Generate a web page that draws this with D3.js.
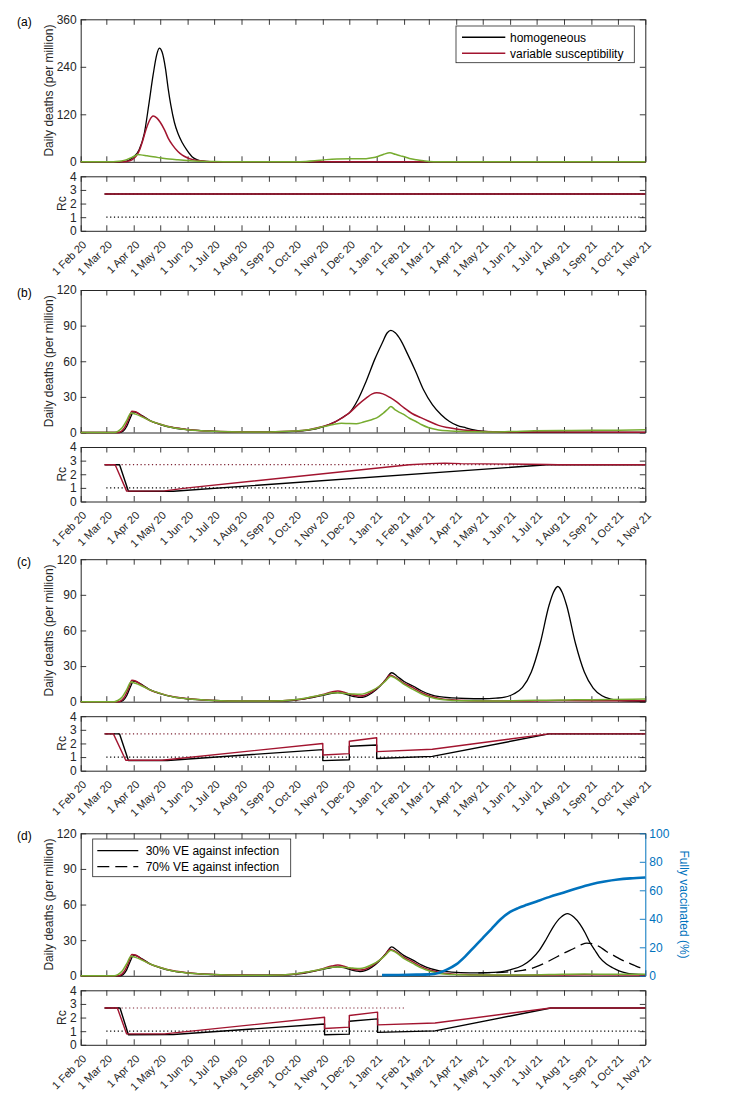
<!DOCTYPE html>
<html><head><meta charset="utf-8">
<script src="https://cdn.jsdelivr.net/npm/d3@7"></script>
<style>
body{margin:0;background:#fff}
svg text{font-family:"Liberation Sans",Arial,Helvetica,sans-serif}
</style>
</head><body>
<svg id="chart" width="731" height="1093"></svg>
<script>
// ---------------- DATA (day index: days since 1 Feb 2020) ----------------
const tickLabels = ["1 Feb 20","1 Mar 20","1 Apr 20","1 May 20","1 Jun 20","1 Jul 20","1 Aug 20","1 Sep 20","1 Oct 20","1 Nov 20","1 Dec 20","1 Jan 21","1 Feb 21","1 Mar 21","1 Apr 21","1 May 21","1 Jun 21","1 Jul 21","1 Aug 21","1 Sep 21","1 Oct 21","1 Nov 21"];
const panelLabels = ["(a)","(b)","(c)","(d)"];
const yTicksA = [0,120,240,360];
const yTicksBCD = [0,30,60,90,120];
const rcTicks = [0,1,2,3,4];
const vacTicks = [0,20,40,60,80,100];
const legendA = ["homogeneous","variable susceptibility"];
const legendD = ["30% VE against infection","70% VE against infection"];

// panel (a)
const deathsA_homog = [[0,0],[44,0],[50,1],[54.5,4],[60,12.6],[66,30],[72,72],[77,143],[82,220],[86,270],[89,287],[92,278],[96,235],[99,185],[102,143],[106,100],[110,72],[115,48],[120,30],[126,13],[132,5],[138,1.5],[146,0.3],[160,0],[639,0]];
const deathsA_var = [[0,0],[46,0],[52,1],[58,5],[63,15],[67,32],[70.4,55],[74,82],[78,105],[82,115.5],[86,111],[90,100],[95,80],[99,60],[104,42],[110,26],[115,17],[120,11],[127,5.5],[135,2.5],[142,1],[155,0.2],[170,0],[639,0]];
const deathsA_stoch = [[0,0],[34,0],[40,0.5],[46,2],[52,5.5],[58,11],[62,16],[64.5,18.5],[68,17.5],[75,15],[82,12.5],[90,10],[100,7],[110,5],[120,3.4],[135,1.5],[150,0.5],[170,0.2],[220,0.1],[240,0.3],[255,1],[265,2.5],[278,5.5],[290,7],[305,7.5],[315,7.5],[323,8],[330,10],[337,14],[343,19],[350,22.8],[356,19],[362,15],[366,12.6],[372,8.5],[380,5],[388,2.5],[394,1],[405,0.4],[639,0.3]];
const rcA_homog = [[27,2.7],[639,2.7]];
const rcA_var = [[27,2.7],[639,2.7]];

// first wave, shared by (b), (c), (d)
const wave1_homog = [[0,0],[44,0],[48,1],[52,5],[56,12],[60,17.4],[64,16.5],[70,14],[80,9.5],[90,6.7],[105,4],[121,2.4],[151,1],[182,0.5],[213,0.5]];
const wave1_var = [[0,0],[42,0],[46,1],[50,4.5],[54,11],[58,18],[62,17.5],[68,14.5],[78,10],[90,7],[105,4.2],[121,2.6],[151,1],[182,0.6],[213,0.5]];
const wave1_stoch = [[0,0],[38,0],[42,1],[47,4],[52,10],[57,16.5],[62,15.5],[70,13],[80,9.5],[90,7],[105,4],[121,2.4],[151,1],[182,0.5],[213,0.5]];

// panel (b)
const wave2B_homog = [[243,1],[258,2],[274,4.8],[288,9],[298,13.5],[304,16.5],[314,28],[323,43],[333,62],[341,75],[347,84],[351,86],[356,84],[362,78],[370,66],[379,51.6],[388,36],[398,23.5],[408,15],[417,9.5],[426,6],[436,3.9],[445,2.2],[455,1.1],[470,0.5],[500,0.2],[639,0.1]];
const wave2B_var = [[243,1.2],[258,2.4],[274,5],[288,9],[304,16.5],[314,23.5],[323,29],[330,32.5],[335,33.4],[342,32.5],[350,29.5],[358,25.5],[366,20.7],[375,16],[385,12.5],[394,9.5],[405,6],[415,4.2],[425,3],[440,1.6],[455,0.8],[480,0.4],[639,0.3]];
const wave2B_stoch = [[243,1.2],[258,2.4],[274,4.8],[286,6.7],[295,7.8],[304,7.5],[312,7.4],[318,8.3],[323,9.5],[330,11],[335,12.3],[342,16],[348,20],[351,22],[356,19],[362,16.5],[366,15],[372,12],[379,9.5],[386,6.5],[394,4],[405,2.2],[415,1.4],[425,1],[445,0.6],[470,0.5],[490,0.9],[513,1.5],[550,1.7],[580,1.9],[610,2],[639,2.3]];
const rcB_homog = [[27,2.7],[44,2.7],[54,0.75],[105,0.75],[528,2.7],[639,2.7]];
const rcB_var = [[27,2.7],[39,2.7],[52,0.76],[95,0.78],[121,1.0],[323,2.37],[372,2.7],[395,2.78],[412,2.82],[430,2.78],[528,2.72],[540,2.7],[639,2.7]];

// second wave shared by (c) and (d)
const wave2_homog = [[235,0.8],[244,1.4],[258,3],[274,5.4],[284,7],[291,7.6],[298,6.8],[306,5],[312,4],[316,3.6],[322,4.3],[330,7.5],[338,12.5],[345,18.5],[352,24.4],[358,21.5],[366,17],[376,13.2],[386,9],[396,6],[406,4.2]];
const wave2_var = [[244,1.6],[258,3.3],[274,6],[284,8.2],[291,9],[298,8],[306,6],[312,5.1],[316,4.8],[322,5.5],[330,8.5],[338,13],[345,18],[350,22.4],[356,20.5],[366,15.5],[376,11.8],[386,7.5],[396,4.6],[406,2.8]];
const wave2_stoch = [[244,1.8],[258,3.5],[274,5.8],[284,7.3],[291,7.5],[300,7],[308,6.5],[316,6.2],[322,7],[330,9.5],[338,13],[345,17.5],[351,21.5],[357,19.5],[366,14.5],[376,10.4],[386,6.5],[396,3.8],[406,2]];

// panel (c)
const tailC_homog = [[420,3.2],[435,2.7],[455,2.5],[470,3],[480,3.8],[490,6.5],[500,12],[510,25],[520,49],[530,81],[535,92],[540,97],[545,92],[550,81],[560,49],[570,25],[580,11.5],[590,5],[600,2.2],[610,1],[625,0.5],[639,0.3]];
const tailC_var = [[420,1.6],[440,0.9],[470,0.6],[500,0.6],[540,1],[580,0.9],[639,0.8]];
const tailC_stoch = [[420,1.1],[440,0.7],[470,0.6],[500,1],[530,1.3],[560,1.6],[600,1.8],[639,2.2]];
const rcC_homog = [[27,2.7],[44,2.7],[54,0.75],[98,0.75],[274,1.55],[274,0.74],[304,0.8],[304,1.79],[335,1.89],[335,0.9],[398,1.05],[530,2.7],[639,2.7]];
const rcC_var = [[27,2.7],[37,2.7],[51,0.77],[92,0.77],[274,2.0],[274,1.15],[304,1.25],[304,2.16],[335,2.42],[335,1.4],[398,1.57],[530,2.7],[639,2.7]];

// panel (d)
const tailD_homog30 = [[420,3.1],[440,2.5],[460,2.6],[475,3.3],[486,5],[500,8.7],[510,14],[519,21.4],[527,31],[535,41.5],[543,49],[551,52.4],[558,49.5],[565,43.5],[571,36],[576,28.5],[582,21.5],[587,15.8],[595,10],[602,6.8],[610,4],[618,2.3],[632,1.1],[639,0.9]];
const deathsD_homog70 = [[450,2.5],[470,2.7],[485,3.3],[500,4.5],[510,6.2],[519.5,8.7],[530,12.5],[538.6,15.8],[548,19.5],[557.6,22.8],[566,26],[572.7,27.6],[580,27],[587.9,24.2],[595,20.5],[603,17.2],[610,14.3],[618,11.5],[626,9],[633,6.8],[639,5.6]];
const tailD_var = [[420,1.6],[440,0.9],[470,0.5],[530,0.6],[570,0.8],[639,0.6]];
const tailD_stoch = [[420,1.1],[440,0.7],[480,0.6],[530,1.0],[570,1.5],[600,1.3],[639,1.3]];
const vaccinatedD = [[341,0.5],[360,0.6],[380,0.8],[394,1.0],[405,2],[415,4.5],[425,8],[435,13.5],[445,20],[455,26.5],[465,33],[475,39.5],[486,44.8],[495,47.5],[505,49.8],[516,52.2],[530,55.2],[547,58.5],[562,61.5],[578,64.3],[593,66.2],[608,67.6],[622,68.4],[639,69]];
const rcD_homog = [[27,2.7],[44.5,2.7],[54,0.74],[105,0.76],[276,1.53],[276,0.74],[304,0.78],[304,1.73],[336,1.9],[336,0.91],[401,1.02],[532,2.7],[639,2.7]];
const rcD_var = [[27,2.7],[41.5,2.7],[52,0.8],[95,0.8],[276,2.02],[276,1.2],[304,1.3],[304,2.15],[336,2.4],[336,1.46],[401,1.6],[532,2.7],[639,2.7]];

// reference (dotted) lines in the Rc panels
const rcRefOne = [[29,1],[639,1]];
const rcRefBase = [[29,2.7],[639,2.7]];
const rcRefBaseD = [[29,2.7],[368,2.7]];

// ---------------- DRAWING ----------------
const BLACK="#000000", RED="#A2142F", GREEN="#77AC30", BLUE="#0072BD", AX="#262626", DOTRED="#7d2233";
const X0=80.7, X1=645.3, MAIN_H=142.5, RC_OFF=157, RC_H=54.5, TICK=5.5;
const tops = [19.3, 290, 559.2, 833.3];
const t0 = Date.UTC(2020,1,1);
const dt = d => new Date(t0 + d*864e5);
const x = d3.scaleUtc().domain([dt(0), new Date(Date.UTC(2021,10,1))]).range([X0,X1]);
const tickDates = d3.utcMonth.range(new Date(Date.UTC(2020,1,1)), new Date(Date.UTC(2021,10,2)));
const svg = d3.select("#chart");
const fmtInt = d3.format("d");

function styleAxis(sel, color){
  sel.attr("color", color).attr("font-size", null).attr("font-family", null);
  sel.selectAll(".domain").attr("stroke-width", 1);
  sel.selectAll(".tick line").attr("stroke-width", 0.9);
  sel.selectAll("text").style("font-size","12px");
}

function frame(g, y, top, bottom, yTicks, withRightAxis){
  g.append("g").attr("transform",`translate(0,${bottom})`)
    .call(d3.axisBottom(x).tickValues(tickDates).tickSize(-TICK).tickSizeOuter(0).tickFormat(""))
    .call(s=>styleAxis(s,AX));
  g.append("g").attr("transform",`translate(0,${top})`)
    .call(d3.axisTop(x).tickValues(tickDates).tickSize(-TICK).tickSizeOuter(0).tickFormat(""))
    .call(s=>styleAxis(s,AX));
  g.append("g").attr("transform",`translate(${X0},0)`)
    .call(d3.axisLeft(y).tickValues(yTicks).tickFormat(fmtInt).tickSize(-TICK).tickSizeOuter(0).tickPadding(4))
    .call(s=>styleAxis(s,AX));
  if (withRightAxis) {
    g.append("g").attr("transform",`translate(${X1},0)`)
      .call(d3.axisRight(y).tickValues(yTicks).tickSize(-TICK).tickSizeOuter(0).tickFormat(""))
      .call(s=>styleAxis(s,AX));
  }
}

function drawLine(g, data, y, color, width, dash, curve){
  const gen = d3.line().x(d=>x(dt(d[0]))).y(d=>y(d[1])).curve(curve || d3.curveMonotoneX);
  const p = g.append("path").attr("d", gen(data)).attr("fill","none")
    .attr("stroke", color).attr("stroke-width", width)
    .attr("stroke-linejoin","round");
  if (dash) p.attr("stroke-dasharray", dash);
  return p;
}

const panels = [
  {deaths:[[deathsA_homog,BLACK],[deathsA_var,RED],[deathsA_stoch,GREEN]], yMax:360, yTicks:yTicksA,
   rc:[[rcA_homog,BLACK],[rcA_var,RED]], base:rcRefBase},
  {deaths:[[wave1_homog.concat(wave2B_homog),BLACK],[wave1_var.concat(wave2B_var),RED],[wave1_stoch.concat(wave2B_stoch),GREEN]], yMax:120, yTicks:yTicksBCD,
   rc:[[rcB_homog,BLACK],[rcB_var,RED]], base:rcRefBase},
  {deaths:[[wave1_homog.concat(wave2_homog,tailC_homog),BLACK],[wave1_var.concat(wave2_var,tailC_var),RED],[wave1_stoch.concat(wave2_stoch,tailC_stoch),GREEN]], yMax:120, yTicks:yTicksBCD,
   rc:[[rcC_homog,BLACK],[rcC_var,RED]], base:rcRefBase},
  {deaths:[[wave1_homog.concat(wave2_homog,tailD_homog30),BLACK],[wave1_var.concat(wave2_var,tailD_var),RED],[wave1_stoch.concat(wave2_stoch,tailD_stoch),GREEN]], yMax:120, yTicks:yTicksBCD,
   rc:[[rcD_homog,BLACK],[rcD_var,RED]], base:rcRefBaseD}
];

panels.forEach((p,i)=>{
  const top = tops[i], bottom = top+MAIN_H;
  const rTop = top+RC_OFF, rBottom = rTop+RC_H;
  const g = svg.append("g");

  // ---- main deaths axes
  const y = d3.scaleLinear().domain([0,p.yMax]).range([bottom, top]);
  frame(g, y, top, bottom, p.yTicks, i!==3);
  p.deaths.forEach(([data,color])=>{
    drawLine(g, data, y, color, color===BLACK?1.3:1.5);
  });
  if (i===3) {
    drawLine(g, deathsD_homog70, y, BLACK, 1.3, "12,6");
    const yv = d3.scaleLinear().domain([0,100]).range([bottom, top]);
    g.append("g").attr("transform",`translate(${X1},0)`)
      .call(d3.axisRight(yv).tickValues(vacTicks).tickSize(-TICK).tickSizeOuter(0).tickPadding(4))
      .call(s=>styleAxis(s,BLUE));
    drawLine(g, vaccinatedD, yv, BLUE, 2.6);
    g.append("text").attr("transform",`translate(684.3,${(top+bottom)/2}) rotate(90)`)
      .attr("text-anchor","middle").attr("dy","0.35em").attr("fill",BLUE)
      .style("font-size","12px").text("Fully vaccinated (%)");
  }
  g.append("text").attr("transform",`translate(48.3,${(top+bottom)/2}) rotate(-90)`)
    .attr("text-anchor","middle").attr("dy","0.35em").attr("fill",AX)
    .style("font-size","12px").text("Daily deaths (per million)");
  g.append("text").attr("x",17).attr("y",top+7).attr("fill","#000")
    .style("font-size","12px").text(panelLabels[i]);

  // ---- legend
  if (i===0) {
    const lg = g.append("g");
    lg.append("rect").attr("x",456).attr("y",26).attr("width",178.3).attr("height",36.7)
      .attr("fill","#fff").attr("stroke",AX).attr("stroke-width",0.8);
    [[BLACK,37.3],[RED,53.3]].forEach(([c,yy],k)=>{
      lg.append("line").attr("x1",462).attr("x2",505.3).attr("y1",yy).attr("y2",yy).attr("stroke",c).attr("stroke-width",1.4);
      lg.append("text").attr("x",510).attr("y",yy).attr("dy","0.35em").attr("fill","#000").style("font-size","12px").text(legendA[k]);
    });
  }
  if (i===3) {
    const lg = g.append("g");
    lg.append("rect").attr("x",92.7).attr("y",839).attr("width",198).attr("height",37.7)
      .attr("fill","#fff").attr("stroke",AX).attr("stroke-width",0.8);
    [[null,850.7],["12,6",866.7]].forEach(([dash,yy],k)=>{
      const l = lg.append("line").attr("x1",97.3).attr("x2",138.3).attr("y1",yy).attr("y2",yy).attr("stroke",BLACK).attr("stroke-width",1.3);
      if (dash) l.attr("stroke-dasharray",dash);
      lg.append("text").attr("x",145.7).attr("y",yy).attr("dy","0.35em").attr("fill","#000").style("font-size","12px").text(legendD[k]);
    });
  }

  // ---- Rc axes
  const yr = d3.scaleLinear().domain([0,4]).range([rBottom, rTop]);
  frame(g, yr, rTop, rBottom, rcTicks, true);
  drawLine(g, p.base, yr, DOTRED, 1.2, "1.2,2.6", d3.curveLinear);
  drawLine(g, rcRefOne, yr, BLACK, 1.2, "1.2,2.6", d3.curveLinear);
  p.rc.forEach(([data,color])=>drawLine(g, data, yr, color, 1.4, null, d3.curveLinear));
  g.append("text").attr("transform",`translate(61.7,${(rTop+rBottom)/2}) rotate(-90)`)
    .attr("text-anchor","middle").attr("dy","0.35em").attr("fill",AX)
    .style("font-size","12px").text("Rc");

  // rotated date labels
  tickDates.forEach((d,k)=>{
    g.append("text").attr("transform",`translate(${x(d)+6.5},${rBottom+14.5}) rotate(-45)`)
      .attr("text-anchor","end").attr("fill",AX).style("font-size","11px").text(tickLabels[k]);
  });
});
</script>
</body></html>
